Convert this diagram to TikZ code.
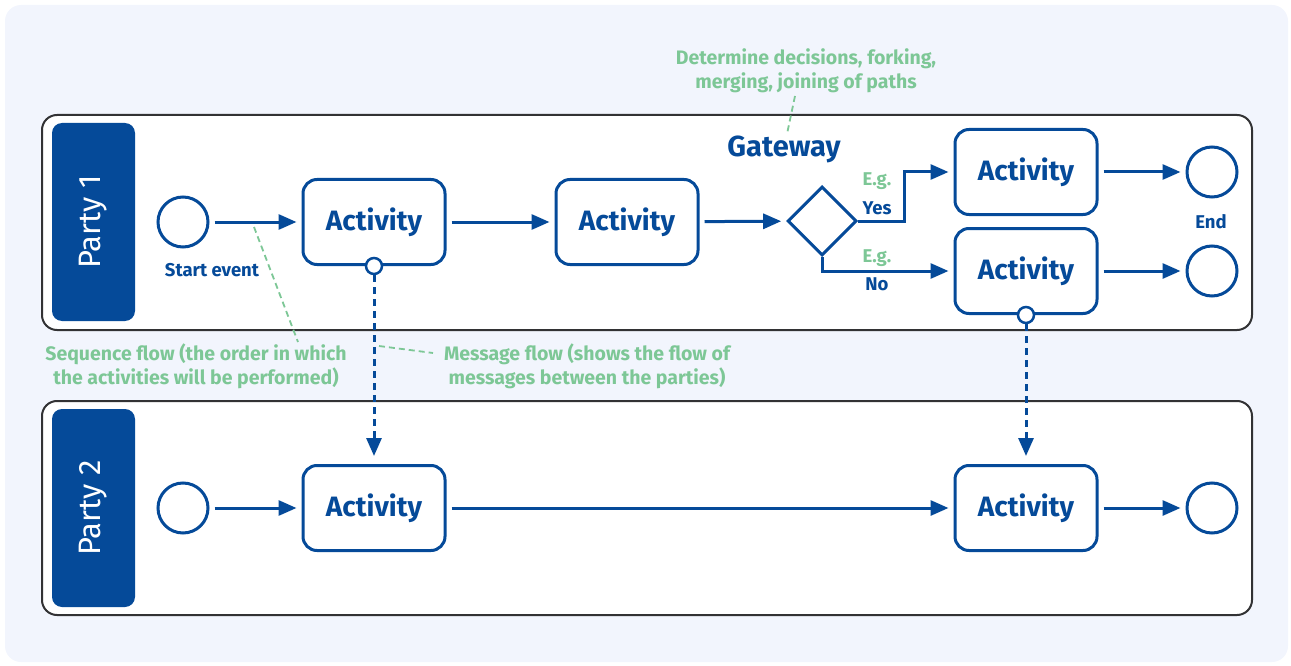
\documentclass[tikz,border=0pt]{standalone}
\usepackage{fontspec}
\setmainfont{Fira Sans}
\usetikzlibrary{arrows.meta,shapes.geometric,calc}
\definecolor{bpblue}{RGB}{5,74,153}
\definecolor{bpgreen}{RGB}{125,199,150}
\definecolor{bpbg}{RGB}{242,245,253}
\definecolor{bpgrey}{RGB}{50,50,52}
\tikzset{
  act/.style={draw=bpblue, line width=3pt, rounded corners=14pt, fill=white,
    minimum width=142pt, minimum height=85pt, text=bpblue,
    font=\fontsize{28}{32}\selectfont\bfseries},
  evt/.style={draw=bpblue, line width=3pt, circle, fill=white, minimum size=50pt, inner sep=0pt},
  gate/.style={draw=bpblue, line width=3pt, diamond, fill=white, minimum width=69pt, minimum height=69pt, inner sep=0pt},
  mcirc/.style={draw=bpblue, line width=2.5pt, circle, fill=white, minimum size=16pt, inner sep=0pt},
  flow/.style={draw=bpblue, line width=3pt, -{Triangle[length=18pt,width=15pt]}, shorten <=5pt, shorten >=5pt},
  mflow/.style={draw=bpblue, line width=3pt, dash pattern=on 7pt off 5pt, -{Triangle[length=18pt,width=15pt]}, shorten >=8pt},
  pool/.style={draw=bpgrey, line width=2pt, rounded corners=15pt, fill=white},
  lane/.style={fill=bpblue, rounded corners=10pt, minimum width=83pt, minimum height=198pt},
  lanetxt/.style={text=white, font=\fontsize{31}{34}\selectfont, rotate=90},
  note/.style={text=bpgreen, font=\fontsize{19.5}{24}\selectfont\bfseries, align=center},
  lbl/.style={text=bpblue, font=\fontsize{18.5}{22}\selectfont\bfseries},
  glbl/.style={text=bpgreen, font=\fontsize{18.5}{22}\selectfont\bfseries},
  ndash/.style={draw=bpgreen, line width=1.8pt, dash pattern=on 6pt off 4pt}
}
\begin{document}
\begin{tikzpicture}[x=1pt,y=-1pt]
\useasboundingbox (0,0) rectangle (1291,666);
\fill[bpbg, rounded corners=16pt] (5,5) rectangle (1288,662);
% pools
\draw[pool] (42,115) rectangle (1252,330);
\draw[pool] (42,401) rectangle (1252,615);
\node[lane] (l1) at (93.5,222) {};
\node[lanetxt] at (l1) {Party 1};
\node[lane] (l2) at (93.5,508) {};
\node[lanetxt] at (l2) {Party 2};
% party 1
\node[evt] (s1) at (183,222) {};
\node[lbl] (sl) at (212,270) {Start event};
\node[act] (a1) at (374,222) {Activity};
\node[act] (a2) at (627,222) {Activity};
\node[gate] (g) at (822,221) {};
\node[text=bpblue, font=\fontsize{29}{32}\selectfont\bfseries] (gl) at (784,149) {Gateway};
\node[act] (a3) at (1026,172) {Activity};
\node[act] (a4) at (1026,271) {Activity};
\node[evt] (e1) at (1212,172) {};
\node[evt] (e2) at (1212,271) {};
\node[lbl] (el) at (1211,222) {End};
\node[glbl] (eg1) at (877,181) {E.g.};
\node[lbl] (yes) at (877,208) {Yes};
\node[glbl] (eg2) at (877,258) {E.g.};
\node[lbl] (no) at (877,284) {No};
\draw[flow] (s1) -- (a1);
\draw[flow] (a1) -- (a2);
\draw[flow] (a2) -- (g);
\draw[flow, shorten <=0pt] (g.east) -- ++(46,0) |- (a3.west);
\draw[flow, shorten <=0pt] (g.south) |- (a4.west);
\draw[flow] (a3) -- (e1);
\draw[flow] (a4) -- (e2);
% party 2
\node[evt] (s2) at (183,508) {};
\node[act] (a5) at (374,508) {Activity};
\node[act] (a6) at (1026,508) {Activity};
\node[evt] (e3) at (1212,508) {};
\draw[flow] (s2) -- (a5);
\draw[flow] (a5) -- (a6);
\draw[flow] (a6) -- (e3);
% message flows
\node[mcirc] (m1) at (a1.south) {};
\node[mcirc] (m2) at (a4.south) {};
\draw[mflow] (m1.south) -- (a5.north);
\draw[mflow] (m2.south) -- (a6.north);
% notes
\node[note] (n1) at (806,71) {Determine decisions, forking,\\merging, joining of paths};
\node[note] (n2) at (196,366) {Sequence flow (the order in which\\the activities will be performed)};
\node[note] (n3) at (587,366) {Message flow (shows the flow of\\messages between the parties)};
\coordinate (c1) at (795,96);
\coordinate (c2) at (787,134);
\draw[ndash] (c1) -- (c2);
\coordinate (c3) at (254,227);
\coordinate (c4) at (298,342);
\draw[ndash] (c3) -- (c4);
\coordinate (c5) at (379,346);
\coordinate (c6) at (433,353);
\draw[ndash] (c5) -- (c6);
\end{tikzpicture}
\end{document}
